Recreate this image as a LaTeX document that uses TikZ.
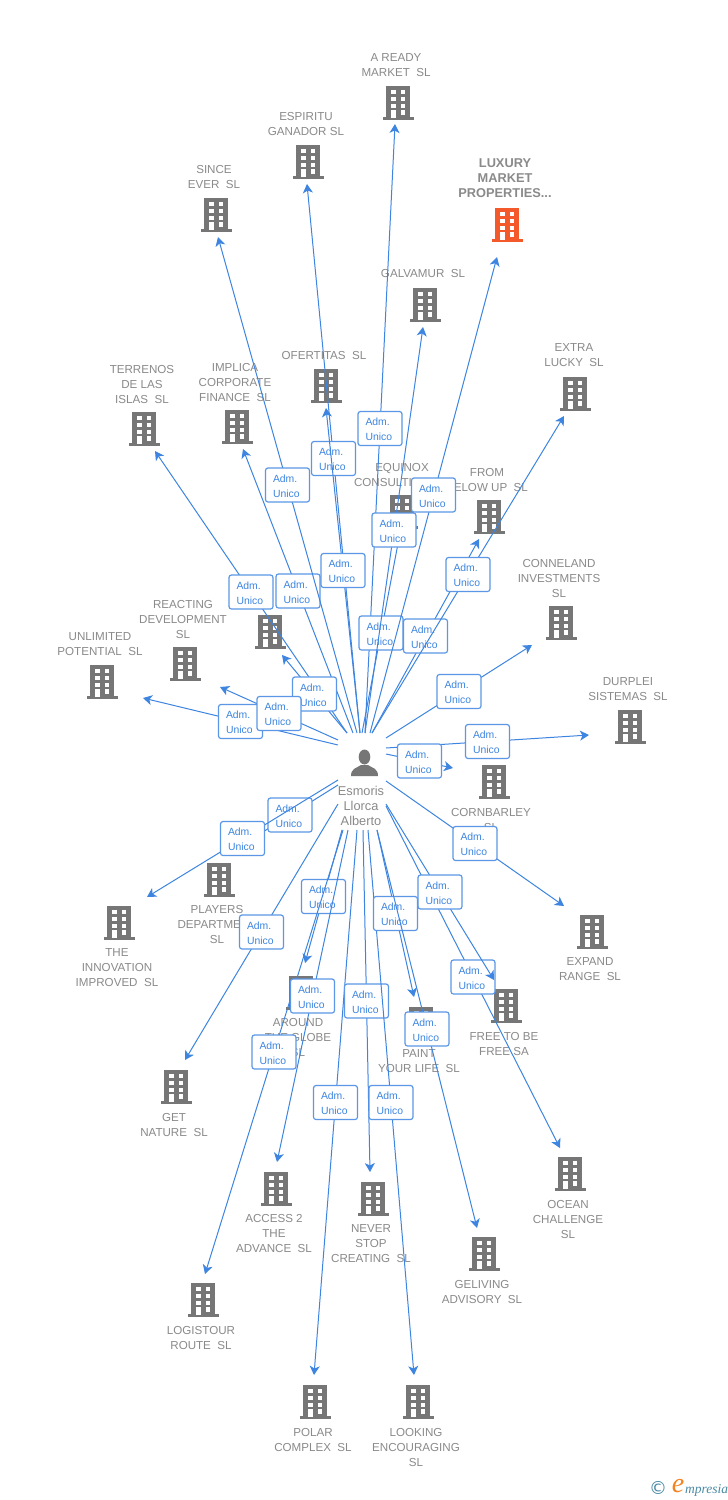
\documentclass[tikz,border=0pt]{standalone}
\usepackage{fontspec}
\setmainfont{Liberation Sans}
\newfontfamily\djv{DejaVu Sans}
\newfontfamily\lserif{Liberation Serif}
\usetikzlibrary{arrows.meta,calc}
\definecolor{txtgray}{HTML}{8A8A8A}
\definecolor{iconGray}{HTML}{767676}
\definecolor{luxOrange}{HTML}{F4592B}
\definecolor{linkBlue}{HTML}{3D85E0}
\definecolor{boxBlue}{HTML}{5B97E6}
\definecolor{logoTeal}{HTML}{4A8AA5}
\definecolor{logoOrange}{HTML}{F58220}
\tikzset{
  lbl/.style={text=txtgray,align=center,inner sep=0pt,yshift=-1pt,font=\fontsize{11.6}{15}\selectfont},
  lblbold/.style={text=txtgray,align=center,inner sep=0pt,yshift=-0.5pt,font=\fontsize{12.8}{15}\selectfont\bfseries},
  lblperson/.style={text=txtgray,align=center,inner sep=0pt,yshift=-1pt,font=\fontsize{12.8}{15}\selectfont},
  conn/.style={draw=linkBlue,line width=1pt,-{Stealth[length=9pt,width=10pt,inset=2.5pt]}},
  admbox/.style={draw=boxBlue,line width=1.2pt,fill=white,rounded corners=2.5pt,minimum width=44pt,minimum height=34pt,
    inner sep=0pt,text width=29pt,align=left,text=linkBlue,font=\fontsize{10.4}{15}\selectfont},
}
% name, icon x, icon y, colour
\newcommand{\bicon}[4]{%
  \node[inner sep=0pt,minimum width=31pt,minimum height=34pt] (#1) at (#2,#3) {};
  \begin{scope}[shift={(#2,#3)}]
    \fill[#4] (-11.7,-17.5) rectangle (11.7,17);
    \fill[#4] (-15.5,14) rectangle (15.5,17);
    \foreach \yy in {-13,-6.2,0.6}{
      \fill[white] (-7,\yy) rectangle (-2.2,\yy+4.2);
      \fill[white] (2.6,\yy) rectangle (7.4,\yy+4.2);
    }
    \fill[white] (-7,7.4) rectangle (-2.2,14.5);
    \fill[white] (2.6,7.4) rectangle (7.4,11.6);
  \end{scope}
}
% name, text x, text y, text
\newcommand{\tlab}[4]{\node[lbl] (#1) at (#2,#3) {#4};}
% name, start x,y, tip x,y
\newcommand{\link}[5]{%
  \coordinate (s#1) at (#2,#3);
  \coordinate (t#1) at (#4,#5);
  \draw[conn] (s#1) -- (t#1);
  \node[admbox] (l#1) at ($(s#1)!.5!(t#1)$) {\rule{0pt}{9.6pt}Adm.\\Unico};
}
\begin{document}
\begin{tikzpicture}[x=1pt,y=-1pt]
\useasboundingbox (0,0) rectangle (728,1500);
\fill[white] (0,0) rectangle (728,1500);

% companies
\bicon{bReady}{398}{103}{iconGray} \tlab{nReady}{396}{64.5}{A READY\\MARKET\ \ SL}
\bicon{bEsp}{308}{162}{iconGray} \tlab{nEsp}{306}{123.5}{ESPIRITU\\GANADOR SL}
\bicon{bSince}{216}{215}{iconGray} \tlab{nSince}{214}{176.5}{SINCE\\EVER\ \ SL}
\bicon{bLux}{507}{225}{luxOrange} \node[lblbold] (nLux) at (505,178) {LUXURY\\MARKET\\PROPERTIES...};
\bicon{bGal}{425}{305}{iconGray} \tlab{nGal}{423}{273}{GALVAMUR\ \ SL}
\bicon{bExtra}{575}{394}{iconGray} \tlab{nExtra}{574}{354.5}{EXTRA\\LUCKY\ \ SL}
\bicon{bOfe}{326}{386}{iconGray} \tlab{nOfe}{324}{354}{OFERTITAS\ \ SL}
\bicon{bImp}{237}{427}{iconGray} \tlab{nImp}{235}{381}{IMPLICA\\CORPORATE\\FINANCE\ \ SL}
\bicon{bTer}{144}{429}{iconGray} \tlab{nTer}{142}{383}{TERRENOS\\DE LAS\\ISLAS\ \ SL}
\bicon{bEqu}{402}{512}{iconGray} \tlab{nEqu}{402}{473.5}{EQUINOX\\CONSULTING\ \ SL}
\bicon{bFrom}{489}{517}{iconGray} \tlab{nFrom}{487}{478.5}{FROM\\BELOW UP\ \ SL}
\bicon{bConn}{561}{623}{iconGray} \tlab{nConn}{559}{577}{CONNELAND\\INVESTMENTS\\SL}
\bicon{bDur}{630}{727}{iconGray} \tlab{nDur}{628}{688.5}{DURPLEI\\SISTEMAS\ \ SL}
\bicon{bCorn}{494}{782}{iconGray} \tlab{nCorn}{491}{818.5}{CORNBARLEY\\SL}
\bicon{bRea}{185}{664}{iconGray} \tlab{nRea}{183}{618}{REACTING\\DEVELOPMENT\\SL}
\bicon{bHid}{270}{632}{iconGray}
\bicon{bUnl}{102}{682}{iconGray} \tlab{nUnl}{100}{643.5}{UNLIMITED\\POTENTIAL\ \ SL}
\bicon{bExp}{592}{932}{iconGray} \tlab{nExp}{590}{968.5}{EXPAND\\RANGE\ \ SL}
\bicon{bFree}{506}{1006}{iconGray} \tlab{nFree}{504}{1042.5}{FREE TO BE\\FREE SA}
\bicon{bOcean}{570}{1174}{iconGray} \tlab{nOcean}{568}{1218}{OCEAN\\CHALLENGE\\SL}
\bicon{bPaint}{421}{1024}{iconGray} \tlab{nPaint}{419}{1060.5}{PAINT\\YOUR LIFE\ \ SL}
\bicon{bAround}{301}{993}{iconGray} \tlab{nAround}{298}{1036}{AROUND\\THE GLOBE\\SL}
\bicon{bPlay}{219}{880}{iconGray} \tlab{nPlay}{217}{923}{PLAYERS\\DEPARTMENT\\SL}
\bicon{bInn}{119}{923}{iconGray} \tlab{nInn}{117}{967}{THE\\INNOVATION\\IMPROVED\ \ SL}
\bicon{bGet}{176}{1087}{iconGray} \tlab{nGet}{174}{1123.5}{GET\\NATURE\ \ SL}
\bicon{bAcc}{276}{1189}{iconGray} \tlab{nAcc}{274}{1232}{ACCESS 2\\THE\\ADVANCE\ \ SL}
\bicon{bNever}{373}{1199}{iconGray} \tlab{nNever}{371}{1243}{NEVER\\STOP\\CREATING\ \ SL}
\bicon{bGel}{484}{1254}{iconGray} \tlab{nGel}{482}{1290.5}{GELIVING\\ADVISORY\ \ SL}
\bicon{bLog}{203}{1300}{iconGray} \tlab{nLog}{201}{1336.5}{LOGISTOUR\\ROUTE\ \ SL}
\bicon{bPolar}{315}{1402}{iconGray} \tlab{nPolar}{313}{1438.5}{POLAR\\COMPLEX\ \ SL}
\bicon{bLook}{418}{1402}{iconGray} \tlab{nLook}{416}{1446}{LOOKING\\ENCOURAGING\\SL}

% person
\node[inner sep=0pt,minimum width=28pt,minimum height=28pt] (person) at (365,762) {};
\fill[iconGray] (364.5,757) ellipse (5.8 and 7.5);
\fill[iconGray] (351,776) .. controls (351,768) and (357,768) .. (361,765) -- (368,765) .. controls (372,768) and (378,768) .. (378,776) -- cycle;
\node[lblperson] (nPerson) at (361,805) {Esmoris\\Llorca\\Alberto};

% connectors with their labels
\link{Ter}{347}{733}{155}{451}
\link{Imp}{353}{733}{243}{449}
\link{Since}{357}{733}{218}{237}
\link{Hid}{347}{733}{282}{655}
\link{Unl}{338}{745}{143}{698}
\link{Rea}{338}{740}{220}{687}
\link{Esp}{360}{733}{307}{184}
\link{Ofe}{360}{733}{326}{408}
\link{Ready}{365}{733}{395}{124}
\link{Equ}{362}{733}{400}{533}
\link{Gal}{365}{733}{423}{327}
\link{Lux}{370}{733}{497}{257}
\link{From}{372}{733}{479}{539}
\link{Extra}{372}{733}{564}{416}
\link{Conn}{386}{738}{532}{645}
\link{Dur}{386}{748}{589}{735}
\link{Corn}{386}{754}{453}{768}
\link{Exp}{386}{781}{564}{906}
\link{Ocean}{386}{806}{560}{1148}
\link{Free}{386}{804}{494}{980}
\link{Play}{338}{785}{242}{845}
\link{Inn}{338}{780}{147}{897}
\link{Get}{338}{804}{185}{1060}
\link{Around}{342}{830}{305}{963}
\link{Log}{343}{830}{205}{1274}
\link{Acc}{348}{830}{277}{1162}
\link{Polar}{357}{830}{314}{1375}
\link{Never}{363}{830}{370}{1172}
\link{Look}{368}{830}{414}{1375}
\link{Paint}{377}{830}{414}{997}
\link{Gel}{377}{830}{477}{1228}

% logo
\node[inner sep=0pt,text=logoTeal,font=\djv\fontsize{18}{18}\selectfont] (logoC) at (658,1488) {©};
\node[inner sep=0pt,text=logoOrange,font=\lserif\itshape\fontsize{28}{28}\selectfont] (logoE) at (678,1486) {e};
\node[inner sep=0pt,anchor=west,text=logoTeal,font=\lserif\itshape\fontsize{13.5}{14}\selectfont] (logoT) at (685,1490) {mpresia};
\end{tikzpicture}
\end{document}
